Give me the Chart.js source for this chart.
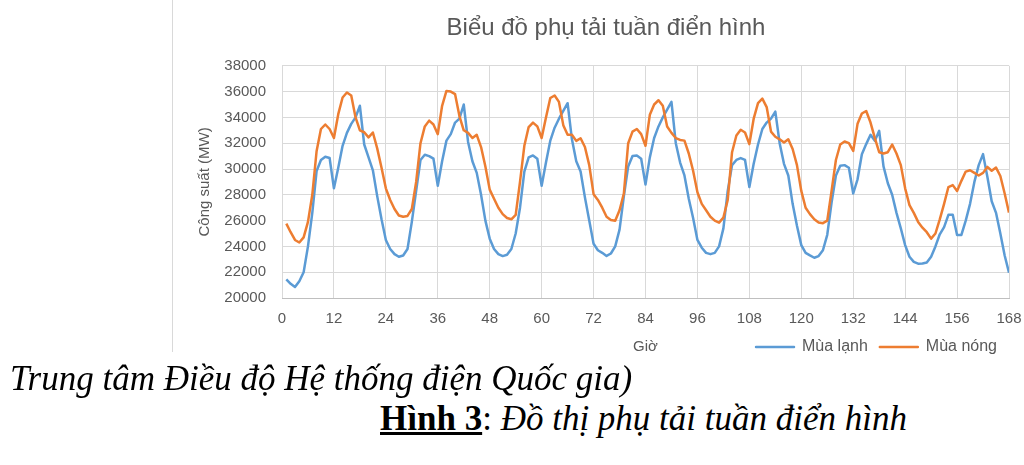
<!DOCTYPE html>
<html lang="vi">
<head>
<meta charset="utf-8">
<title>Biểu đồ phụ tải tuần điển hình</title>
<script src="https://cdn.jsdelivr.net/npm/chart.js@4.4.1/dist/chart.umd.min.js"></script>
<style>
  html, body { margin: 0; padding: 0; background: #fff; width: 1024px; height: 465px; overflow: hidden; }
  #chart-box { position: absolute; left: 172px; top: 0; width: 868px; height: 365px; }
  #frame { position: absolute; left: 172px; top: 0; width: 1px; height: 352px; background: #d9d9d9; }
  .caption { position: absolute; font-family: 'Liberation Serif', 'Times New Roman', serif; font-size: 35px; line-height: 40px; color: #000; white-space: nowrap; }
  #source { left: 10px; top: 359px; font-style: italic; }
  #figure { left: 380px; top: 399px; }
  #figure b { text-decoration: underline; }
</style>
</head>
<body>
<div id="frame"></div>
<div id="chart-box"><canvas id="chart-load"></canvas></div>
<div class="caption" id="source">Trung tâm Điều độ Hệ thống điện Quốc gia)</div>
<div class="caption" id="figure"><b>Hình 3</b>: <i>Đồ thị phụ tải tuần điển hình</i></div>

<script>
'use strict';

const TITLE   = 'Biểu đồ phụ tải tuần điển hình';
const X_TITLE = 'Giờ';
const Y_TITLE = 'Công suất (MW)';
const SERIES_NAMES = ['Mùa lạnh', 'Mùa nóng'];

// hour of the week, 1..168
const hours = Array.from({ length: 168 }, (_, i) => i + 1);

// tick values
const xTicks = [0, 12, 24, 36, 48, 60, 72, 84, 96, 108, 120, 132, 144, 156, 168];
const yTicks = [20000, 22000, 24000, 26000, 28000, 30000, 32000, 34000, 36000, 38000];

// ─── Mùa lạnh (MW), one row per day ─────────────────────────
const coldLoad = [
  21450, 21100, 20850, 21300, 22000, 24000, 26600, 29850, 30700, 30950, 30850, 28500,
  30100, 31800, 32800, 33500, 34000, 34900, 31900, 30900, 29900, 27900, 26100, 24500,
  23800, 23400, 23200, 23300, 23800, 25900, 28300, 30700, 31100, 31000, 30800, 28700,
  30600, 32200, 32700, 33600, 33900, 35000, 32100, 30600, 29700, 28000, 26000, 24600,
  23800, 23400, 23250, 23350, 23800, 25000, 27000, 29800, 30900, 31050, 30800, 28700,
  30500, 32200, 33200, 33900, 34500, 35100, 32300, 30600, 29800, 27800, 26000, 24200,
  23700, 23500, 23260, 23450, 24000, 25300, 27900, 30200, 31000, 31050, 30800, 28800,
  30900, 32400, 33300, 34000, 34600, 35200, 32000, 30500, 29500, 27700, 26200, 24500,
  23900, 23500, 23400, 23500, 24000, 25400, 28300, 30300, 30700, 30850, 30700, 28600,
  30400, 31900, 33100, 33600, 33900, 34450, 32000, 30400, 29500, 27300, 25600, 24100,
  23500, 23300, 23120, 23250, 23700, 24900, 27400, 29500, 30250, 30300, 30100, 28100,
  29200, 31150, 31930, 32650, 32180, 32960, 30200, 28900, 28000, 26600, 25400, 24100,
  23200, 22800, 22660, 22670, 22750, 23200, 24000, 24940, 25500, 26450, 26450, 24890,
  24890, 26000, 27300, 29000, 30300, 31150, 29400, 27500, 26600, 25000, 23300, 21960,
];

// ─── Mùa nóng (MW), one row per day ─────────────────────────
const hotLoad = [
  25770, 25100, 24500, 24300, 24700, 25900, 28000, 31400, 33100, 33450, 33100, 32400,
  34250, 35540, 35930, 35700, 34000, 33000, 32850, 32450, 32830, 31600, 30100, 28500,
  27600, 26900, 26400, 26300, 26360, 26900, 29000, 32000, 33300, 33750, 33450, 32700,
  34900, 36050, 36000, 35800, 34100, 33000, 32800, 32400, 32650, 31700, 30200, 28400,
  27700, 27000, 26500, 26200, 26100, 26450, 29000, 31800, 33250, 33600, 33300, 32400,
  34000, 35500, 35700, 35200, 33400, 32650, 32650, 32180, 32380, 31700, 30300, 28050,
  27600, 27000, 26300, 26050, 25990, 26800, 28100, 32000, 32900, 33100, 32700, 31800,
  34200, 35000, 35330, 34900, 33300, 32800, 32400, 32250, 32200, 31200, 29860, 28200,
  27300, 26800, 26300, 26000, 25840, 26230, 27600, 31300, 32600, 33040, 32830, 31930,
  33900, 35100, 35450, 34800, 32900, 32500, 32300, 32050, 32310, 31550, 30300, 28300,
  27000, 26500, 26100, 25850, 25800, 26000, 28300, 30700, 31900, 32130, 32000, 31400,
  33500, 34300, 34500, 33600, 32400, 31300, 31200, 31300, 31900, 31200, 30300, 28500,
  27200, 26600, 25900, 25450, 25100, 24600, 25000, 26100, 27300, 28600, 28750, 28300,
  29080, 29800, 29900, 29700, 29500, 29700, 30160, 29860, 30110, 29460, 28100, 26620,
];

const TEXT_GREY = '#595959';
const GRID_GREY = '#d9d9d9';

Chart.defaults.font.family = "'Liberation Sans', Arial, sans-serif";
Chart.defaults.color = TEXT_GREY;

// "Giờ" sits on the same row as the legend, centred under the plot
const xTitlePlugin = {
  id: 'xTitle',
  afterDraw(chart) {
    const { ctx, chartArea, legend } = chart;
    ctx.save();
    ctx.font = "15px 'Liberation Sans', Arial, sans-serif";
    ctx.fillStyle = TEXT_GREY;
    ctx.textAlign = 'center';
    ctx.textBaseline = 'middle';
    ctx.fillText(X_TITLE, (chartArea.left + chartArea.right) / 2, legend.top + 12 + 8);
    ctx.restore();
  },
};

new Chart(document.getElementById('chart-load').getContext('2d'), {
  type: 'line',
  data: {
    labels: hours,
    datasets: [
      {
        label: SERIES_NAMES[0],
        data: coldLoad,
        borderColor: '#5b9bd5',
        backgroundColor: '#5b9bd5',
        borderWidth: 2.5,
        borderJoinStyle: 'round',
        pointRadius: 0,
        tension: 0,
        order: 1,
      },
      {
        label: SERIES_NAMES[1],
        data: hotLoad,
        borderColor: '#ed7d31',
        backgroundColor: '#ed7d31',
        borderWidth: 2.5,
        borderJoinStyle: 'round',
        pointRadius: 0,
        tension: 0,
        order: 0,
      },
    ],
  },
  options: {
    responsive: true,
    maintainAspectRatio: false,
    animation: false,
    layout: { padding: 0 },
    plugins: {
      title: {
        display: true,
        text: TITLE,
        color: TEXT_GREY,
        font: { size: 24, weight: 'normal' },
        padding: { top: 14, bottom: 23 },
      },
      legend: {
        position: 'bottom',
        align: 'end',
        fullSize: false,
        labels: {
          boxWidth: 38,
          boxHeight: 0,
          padding: 12,
          color: TEXT_GREY,
          font: { size: 16 },
          sort: (a, b) => a.datasetIndex - b.datasetIndex,
        },
      },
      tooltip: { enabled: false },
    },
    scales: {
      x: {
        type: 'linear',
        min: xTicks[0],
        max: xTicks[xTicks.length - 1],
        afterBuildTicks: s => { s.ticks = xTicks.map(v => ({ value: v })); },
        afterFit: s => { s.height = 29; },
        ticks: { padding: 12, autoSkip: false, maxRotation: 0, font: { size: 15 }, color: TEXT_GREY },
        grid: { color: GRID_GREY, drawTicks: false },
        border: { color: '#bfbfbf' },
      },
      y: {
        min: yTicks[0],
        max: yTicks[yTicks.length - 1],
        afterBuildTicks: s => { s.ticks = yTicks.map(v => ({ value: v })); },
        afterFit: s => { s.width = 110; },
        ticks: { padding: 16, font: { size: 15 }, color: TEXT_GREY, callback: v => String(v) },
        grid: { color: GRID_GREY, drawTicks: false },
        border: { display: false },
        title: {
          display: true,
          text: Y_TITLE,
          color: TEXT_GREY,
          font: { size: 15 },
          padding: { top: 24, bottom: 0 },
        },
      },
      // empty strip on the right so the title centres on the whole chart box
      yRight: {
        position: 'right',
        display: true,
        afterFit: s => { s.width = 31; },
        ticks: { display: false },
        grid: { display: false },
        border: { display: false },
      },
    },
  },
  plugins: [xTitlePlugin],
});
</script>
</body>
</html>
